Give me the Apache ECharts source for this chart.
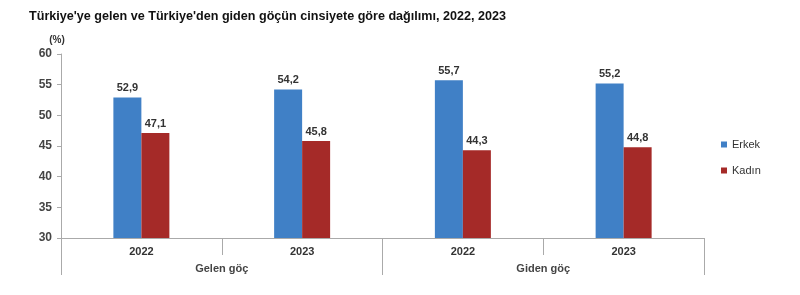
<!DOCTYPE html>
<html><head><meta charset="utf-8">
<script src="https://cdn.jsdelivr.net/npm/echarts@6/dist/echarts.min.js"></script>
<style>html,body{margin:0;padding:0;background:#fff}#c{width:800px;height:295px}</style>
</head><body><div id="c"></div>
<script>
const years = ['2022', '2023', '2022', '2023'];
const groups = ['Gelen göç', 'Giden göç'];
const erkek = [52.9, 54.2, 55.7, 55.2];
const kadin = [47.1, 45.8, 44.3, 44.8];
const yTicks = {min: 30, max: 60, interval: 5};

const chart = echarts.init(document.getElementById('c'));
const fmt = p => String(p.value).replace('.', ',');
const font = 'Liberation Sans, Arial, sans-serif';
chart.setOption({
  animation: false,
  textStyle: {fontFamily: font},
  title: {
    text: "Türkiye'ye gelen ve Türkiye'den giden göçün cinsiyete göre dağılımı, 2022, 2023",
    left: 29, top: 10, padding: 0,
    textStyle: {fontSize: 12.6, fontWeight: 'bold', color: '#111', fontFamily: font}
  },
  legend: {
    orient: 'vertical', left: 716, top: 134,
    icon: 'rect', itemWidth: 6, itemHeight: 6, itemGap: 15,
    textStyle: {fontSize: 11, color: '#333', fontFamily: font},
    data: ['Erkek', 'Kadın']
  },
  grid: {left: 61, top: 54, right: 96, bottom: 57, containLabel: false},
  xAxis: [{
    type: 'category', data: years, position: 'bottom',
    axisLine: {lineStyle: {color: '#aaa'}},
    axisTick: {show: true, length: 17, alignWithLabel: false, lineStyle: {color: '#aaa'}},
    axisLabel: {margin: 8, fontSize: 11, fontWeight: 'bold', color: '#333'}
  }, {
    type: 'category', data: groups, position: 'bottom',
    axisLine: {show: false},
    axisTick: {show: true, length: 37, alignWithLabel: false, lineStyle: {color: '#aaa'}},
    axisLabel: {margin: 25, fontSize: 11, color: '#444', fontWeight: 'bold'}
  }],
  yAxis: {
    type: 'value', min: yTicks.min, max: yTicks.max, interval: yTicks.interval,
    name: '(%)', nameLocation: 'end', nameGap: 9,
    nameTextStyle: {fontSize: 10, color: '#333', fontWeight: 'bold', padding: [0, 8, 0, 0]},
    axisLine: {show: true, lineStyle: {color: '#aaa'}},
    axisTick: {show: true, length: 4, lineStyle: {color: '#aaa'}},
    splitLine: {show: false},
    axisLabel: {fontSize: 12, color: '#444', fontWeight: 'bold', margin: 9}
  },
  series: [{
    name: 'Erkek', type: 'bar', data: erkek, barWidth: 28, barGap: '0%',
    itemStyle: {color: '#4080C6'},
    label: {show: true, position: 'top', formatter: fmt, fontSize: 11, color: '#333', fontWeight: 'bold', distance: 4}
  }, {
    name: 'Kadın', type: 'bar', data: kadin, barWidth: 28, barGap: '0%',
    itemStyle: {color: '#A52A28'},
    label: {show: true, position: 'top', formatter: fmt, fontSize: 11, color: '#333', fontWeight: 'bold', distance: 4}
  }]
});
</script></body></html>
